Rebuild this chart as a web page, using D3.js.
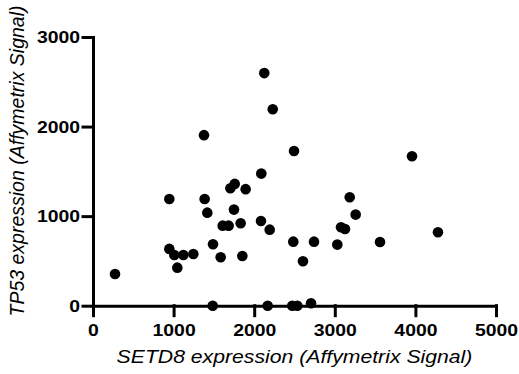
<!DOCTYPE html>
<html>
<head>
<meta charset="utf-8">
<script src="https://cdn.jsdelivr.net/npm/d3@7"></script>
<style>
  body { margin: 0; background: #fff; }
</style>
</head>
<body>
<svg id="scatter-svg" width="519" height="374"></svg>
<script>
// SETD8 vs TP53 expression (Affymetrix signal)
let setd8 = [
  2125, 2230, 1377, 2494, 3958,
  273, 947, 947, 1009, 1121, 1245, 1046,
  1385, 1418, 1489, 1584, 1609, 1683, 1704, 1758, 1749, 1832, 1894, 1853,
  2088, 2084, 2192, 2485, 2605, 2742,
  3031, 3077, 3127, 3185, 3259, 3561, 4280,
  1485, 2167, 2472, 2535, 2705
];
let tp53 = [
  2597, 2194, 1904, 1728, 1669,
  354, 1192, 634, 566, 566, 578, 425,
  1192, 1039, 686, 541, 894, 894, 1312, 1360, 1073, 921, 1301, 555,
  1475, 946, 849, 715, 496, 715,
  682, 876, 857, 1211, 1017, 712, 820,
  0, 0, 0, 0, 27
];
let x_ticks = [0, 1000, 2000, 3000, 4000, 5000];
let y_ticks = [0, 1000, 2000, 3000];

let font = "'Liberation Sans', Arial, sans-serif";
let stretch = 1.14; // the original picture is a bit wider than tall
let scatter_svg = d3.select("#scatter-svg");

let x = d3.scaleLinear().domain([0, 5000]).range([93, 496]);
let y = d3.scaleLinear().domain([0, 3000]).range([305.7, 37]);

function widen(sel) {
  sel.each(function () {
    let w = this.getComputedTextLength();
    d3.select(this)
      .attr("textLength", w * stretch)
      .attr("lengthAdjust", "spacingAndGlyphs");
  });
}

scatter_svg
  .append("g")
  .attr("transform", "translate(0," + y(0) + ")")
  .call(
    d3.axisBottom(x).tickValues(x_ticks).tickFormat(d3.format("d"))
      .tickSize(10).tickSizeOuter(0).tickPadding(8)
  );

scatter_svg
  .append("g")
  .attr("transform", "translate(" + x(0) + ",0)")
  .call(
    d3.axisLeft(y).tickValues(y_ticks).tickFormat(d3.format("d"))
      .tickSize(10).tickSizeOuter(0).tickPadding(3)
  );

scatter_svg.selectAll(".domain, .tick line")
  .attr("stroke", "#000")
  .attr("stroke-width", 3)
  .attr("stroke-linecap", "square");

scatter_svg.selectAll(".tick text")
  .attr("fill", "#000")
  .style("font-family", font)
  .style("font-weight", "bold")
  .style("font-size", "17px")
  .call(widen);

scatter_svg
  .selectAll(".dot")
  .data(setd8.map((d, i) => [d, tp53[i]]))
  .enter()
  .append("circle")
  .attr("class", "dot")
  .attr("cx", (d) => x(d[0]))
  .attr("cy", (d) => y(d[1]))
  .attr("r", 5.3)
  .attr("fill", "#000");

scatter_svg
  .append("text")
  .attr("x", (x(0) + x(5000)) / 2)
  .attr("y", 363)
  .attr("text-anchor", "middle")
  .style("font-family", font)
  .style("font-style", "italic")
  .style("font-size", "18.6px")
  .attr("fill", "#000")
  .text("SETD8 expression (Affymetrix Signal)")
  .call(widen);

scatter_svg
  .append("text")
  .attr("transform", "translate(24," + 161 + ") rotate(-90)")
  .attr("text-anchor", "middle")
  .style("font-family", font)
  .style("font-style", "italic")
  .style("font-size", "19.5px")
  .attr("fill", "#000")
  .text("TP53 expression (Affymetrix Signal)");
</script>
</body>
</html>
